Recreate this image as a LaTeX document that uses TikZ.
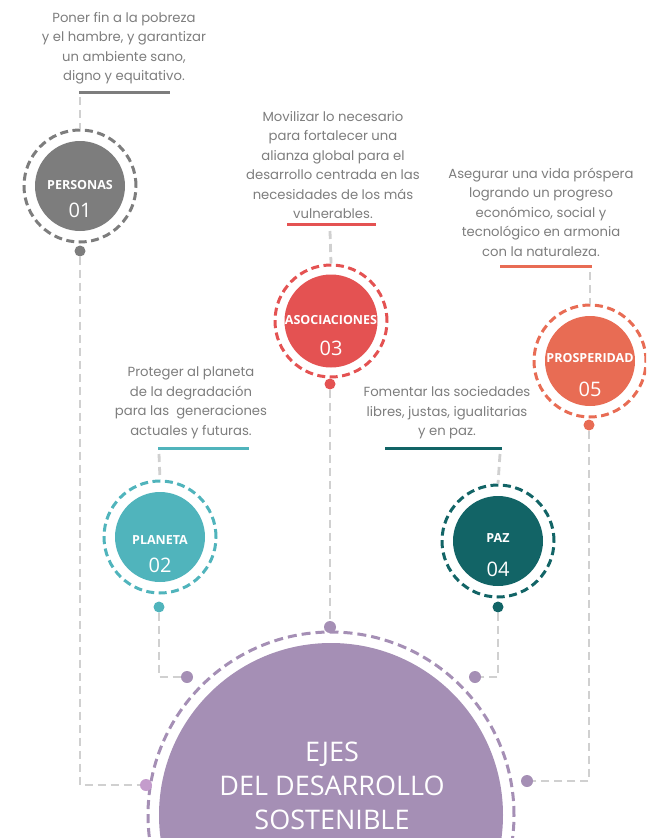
\documentclass[tikz,border=0pt]{standalone}
\usepackage{fontspec}
\setmainfont{Open Sans}
\newfontfamily\descfont{Poppins}
\definecolor{cgray}{RGB}{125,125,125}
\definecolor{cteal}{RGB}{80,180,188}
\definecolor{cred}{RGB}{228,82,82}
\definecolor{cdteal}{RGB}{18,100,102}
\definecolor{ccoral}{RGB}{232,108,84}
\definecolor{cpurple}{RGB}{165,143,181}
\definecolor{cpink}{RGB}{196,156,204}
\definecolor{lgray}{RGB}{208,208,208}
\definecolor{dgray}{RGB}{125,125,125}
\begin{document}
\begin{tikzpicture}[x=1pt,y=-1pt,
  ring/.style={circle, draw=#1, line width=3pt, dash pattern=on 8pt off 4.5pt, inner sep=0, minimum size=112pt},
  disc/.style={circle, fill=#1, inner sep=0, minimum size=90pt},
  dot/.style={circle, fill=#1, inner sep=0, minimum size=11pt},
  conn/.style={draw=lgray, line width=2.8pt, dash pattern=on 8pt off 5pt},
  desc/.style={font=\descfont\fontsize{13.2}{19.5}\selectfont, text=dgray, align=center, inner sep=0},
  lab/.style={font=\bfseries\fontsize{12.5}{14}\selectfont, text=white, inner sep=0},
  num/.style={font=\fontsize{20}{22}\selectfont, text=white, inner sep=0},
  uline/.style={line width=3pt}]
\useasboundingbox (0,0) rectangle (646,838);
\clip (0,0) rectangle (646,838);

% main circle
\node[circle, draw=cpurple, line width=3pt, dash pattern=on 9pt off 5pt, inner sep=0, minimum size=366pt] (ringE) at (331,815) {};
\node[circle, fill=cpurple, inner sep=0, minimum size=344pt] (discE) at (331,815) {};
\node[font=\fontsize{27}{34}\selectfont, text=white, align=center, inner sep=0] (title) at (332,786) {EJES\\DEL DESARROLLO\\SOSTENIBLE};

% descriptions
\node[desc] (tP) at (124,48) {Poner fin a la pobreza\\y el hambre, y garantizar\\un ambiente sano,\\digno y equitativo.};
\node[desc] (tA) at (333,165) {Movilizar lo necesario\\para fortalecer una\\alianza global para el\\desarrollo centrada en las\\necesidades de los más\\vulnerables.};
\node[desc] (tR) at (541,212) {Asegurar una vida próspera\\logrando un progreso\\económico, social y\\tecnológico en armonia\\con la naturaleza.};
\node[desc] (tL) at (191,403) {Proteger al planeta\\de la degradación\\para las~ generaciones\\actuales y futuras.};
\node[desc] (tZ) at (447,413) {Fomentar las sociedades\\libres, justas, igualitarias\\y en paz.};

% underlines
\draw[uline, cgray] (79,92) -- (170,92);
\draw[uline, cred] (287,224) -- (376,224);
\draw[uline, ccoral] (500,266) -- (592,266);
\draw[uline, cteal] (158,448) -- (249,448);
\draw[uline, cdteal] (385,448) -- (502,448);

% circles
\node[ring=cgray] (ringP) at (80,186) {};
\node[disc=cgray] (discP) at (80,186) {};
\node[lab] (labP) at (80,185) {PERSONAS};
\node[num] (numP) at (80,210) {01};

\node[ring=cred] (ringA) at (331,321) {};
\node[disc=cred, minimum size=93pt] (discA) at (331,321) {};
\node[lab] (labA) at (331,320) {ASOCIACIONES};
\node[num] (numA) at (331,348) {03};

\node[ring=ccoral] (ringR) at (590,361) {};
\node[disc=ccoral] (discR) at (590,361) {};
\node[lab] (labR) at (590,358) {PROSPERIDAD};
\node[num] (numR) at (590,389) {05};

\node[ring=cteal] (ringL) at (160,537) {};
\node[disc=cteal] (discL) at (160,537) {};
\node[lab] (labL) at (160,540) {PLANETA};
\node[num] (numL) at (160,565) {02};

\node[ring=cdteal] (ringZ) at (498,541) {};
\node[disc=cdteal] (discZ) at (498,541) {};
\node[lab] (labZ) at (498,538) {PAZ};
\node[num] (numZ) at (498,569) {04};

% short connectors from underline to ring
\coordinate (uP) at (80,97);
\coordinate (uA) at (330,231);
\coordinate (uR) at (590,272);
\coordinate (uL) at (159,454);
\coordinate (uZ) at (500,454);
\draw[conn] (uP) -- (ringP.north);
\draw[conn] (uA) -- (ringA.north);
\draw[conn] (uR) -- (ringR.north);
\draw[conn] (uL) -- (ringL.north);
\draw[conn] (uZ) -- (ringZ.north);

% dots
\node[dot=cgray] (dP) at (80,251) {};
\node[dot=cred] (dA) at (330,384) {};
\node[dot=ccoral] (dR) at (589,425) {};
\node[dot=cteal] (dL) at (159,607) {};
\node[dot=cdteal] (dZ) at (498,607) {};
\node[dot=cpurple, minimum size=12pt] (eA) at (330,627) {};
\node[dot=cpurple, minimum size=12pt] (eL) at (187,677) {};
\node[dot=cpurple, minimum size=12pt] (eZ) at (475,677) {};
\node[dot=cpink, minimum size=12pt] (eP) at (146,785) {};
\node[dot=cpurple, minimum size=12pt] (eR) at (527,781) {};

% connectors
\draw[conn] (dP) |- (eP);
\draw[conn] (dL) |- (eL);
\draw[conn] (dA) -- (eA);
\draw[conn] (dZ) |- (eZ);
\draw[conn] (dR) |- (eR);
\end{tikzpicture}
\end{document}
